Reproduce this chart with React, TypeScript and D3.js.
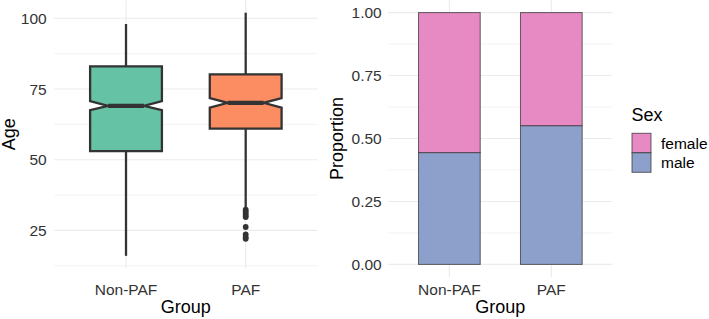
import React from "react";
import * as d3 from "d3";

const groups = ["Non-PAF", "PAF"];
const boxFill = ["#66C2A5", "#FC8D62"];
const q1 = [53, 61];
const q3 = [83, 80.2];
const medians = [69, 70.1];
const notchLow = [67.5, 68.4];
const notchHigh = [70.7, 71.8];
const whiskerLow = [16, 33];
const whiskerHigh = [98, 102];
const pafOutliers = [32.3, 31.6, 30.9, 30.2, 29.7, 26.2, 23.6, 22.6, 22.0];

const ageTicks = [25, 50, 75, 100];
const ageMinor = [12.5, 37.5, 62.5, 87.5];
const propTicks = [0, 0.25, 0.5, 0.75, 1.0];
const propMinor = [0.125, 0.375, 0.625, 0.875];

const sexes = ["male", "female"];
const maleProp = [0.444, 0.551];
const sexFill: Record<string, string> = { female: "#E78AC3", male: "#8DA0CB" };
const legendOrder = ["female", "male"];

const FONT = "'Liberation Sans', Arial, Helvetica, sans-serif";

export default function App() {
  const W = 709, H = 319;
  // left panel
  const L = { x0: 54.2, x1: 317.5, y0: 0.5, y1: 268 };
  const xL = d3.scalePoint<string>().domain(groups).range([L.x0, L.x1]).padding(0.6);
  const yL = d3.scaleLinear().domain([11.7, 106.3]).range([L.y1, L.y0]);
  const boxW = xL.step() * 0.6;

  // right panel
  const R = { x0: 388.2, x1: 612.5, y0: 0, y1: 277 };
  const xR = d3.scalePoint<string>().domain(groups).range([R.x0, R.x1]).padding(0.6);
  const yR = d3.scaleLinear().domain([-0.05, 1.05]).range([R.y1, R.y0]);
  const barW = xR.step() * 0.605;

  const stackData = groups.map((g, i) => ({ group: g, male: maleProp[i], female: 1 - maleProp[i] }));
  const stacked = d3.stack<any>().keys(sexes)(stackData);

  const grid = "#EBEBEB";
  const tickCol = "#333333";
  const dark = "#333333";

  return (
    <svg width={W} height={H} style={{ position: "absolute", left: 0, top: 0 }} fontFamily={FONT}>
      <rect x={0} y={0} width={W} height={H} fill="#fff" />
      {/* LEFT PANEL GRID */}
      {ageMinor.map((v) => (
        <line key={"lm" + v} x1={L.x0} x2={L.x1} y1={yL(v)} y2={yL(v)} stroke={grid} strokeWidth={0.6} />
      ))}
      {ageTicks.map((v) => (
        <line key={"lM" + v} x1={L.x0} x2={L.x1} y1={yL(v)} y2={yL(v)} stroke={grid} strokeWidth={1.1} />
      ))}
      {groups.map((g) => (
        <line key={"lv" + g} x1={xL(g)} x2={xL(g)} y1={L.y0} y2={L.y1} stroke={grid} strokeWidth={1.1} />
      ))}
      {/* boxes */}
      {groups.map((g, i) => {
        const cx = xL(g)!;
        const hw = boxW / 2;
        const nw = hw / 2;
        const pts: [number, number][] = [
          [cx - hw, yL(q3[i])],
          [cx + hw, yL(q3[i])],
          [cx + hw, yL(notchHigh[i])],
          [cx + nw, yL(medians[i])],
          [cx + hw, yL(notchLow[i])],
          [cx + hw, yL(q1[i])],
          [cx - hw, yL(q1[i])],
          [cx - hw, yL(notchLow[i])],
          [cx - nw, yL(medians[i])],
          [cx - hw, yL(notchHigh[i])],
        ];
        const path = d3.line()(pts) + "Z";
        return (
          <g key={"box" + g}>
            <line x1={cx} x2={cx} y1={yL(whiskerHigh[i])} y2={yL(q3[i])} stroke={dark} strokeWidth={2.3} />
            <line x1={cx} x2={cx} y1={yL(q1[i])} y2={yL(whiskerLow[i])} stroke={dark} strokeWidth={2.3} />
            <path d={path} fill={boxFill[i]} stroke={dark} strokeWidth={2.3} strokeLinejoin="miter" />
            <line x1={cx - nw} x2={cx + nw} y1={yL(medians[i])} y2={yL(medians[i])} stroke={dark} strokeWidth={4.2} />
          </g>
        );
      })}
      {pafOutliers.map((v, k) => (
        <circle key={"o" + k} cx={xL("PAF")} cy={yL(v)} r={2.9} fill={dark} />
      ))}
      {/* left axes text */}
      {ageTicks.map((v) => (
        <text key={"lt" + v} x={46.7} y={yL(v)} dy="0.36em" textAnchor="end" fontSize={15.5} fill={tickCol}>
          {v}
        </text>
      ))}
      {groups.map((g) => (
        <text key={"lx" + g} x={xL(g)} y={294.5} textAnchor="middle" fontSize={15.5} fill={tickCol}>
          {g}
        </text>
      ))}
      <text x={(L.x0 + L.x1) / 2} y={313} textAnchor="middle" fontSize={18} fill="#000">
        Group
      </text>
      <text transform={`translate(14.5,${(L.y0 + L.y1) / 2}) rotate(-90)`} textAnchor="middle" fontSize={18} fill="#000">
        Age
      </text>

      {/* RIGHT PANEL GRID */}
      {propMinor.map((v) => (
        <line key={"rm" + v} x1={R.x0} x2={R.x1} y1={yR(v)} y2={yR(v)} stroke={grid} strokeWidth={0.6} />
      ))}
      {propTicks.map((v) => (
        <line key={"rM" + v} x1={R.x0} x2={R.x1} y1={yR(v)} y2={yR(v)} stroke={grid} strokeWidth={1.1} />
      ))}
      {groups.map((g) => (
        <line key={"rv" + g} x1={xR(g)} x2={xR(g)} y1={R.y0} y2={R.y1} stroke={grid} strokeWidth={1.1} />
      ))}
      {/* bars */}
      {stacked.map((layer) => (
        <g key={"layer" + layer.key}>
          {layer.map((d, i) => (
            <rect
              key={layer.key + i}
              x={xR(groups[i])! - barW / 2}
              y={yR(d[1])}
              width={barW}
              height={yR(d[0]) - yR(d[1])}
              fill={sexFill[layer.key]}
              stroke="#333"
              strokeOpacity={0.75}
              strokeWidth={1}
            />
          ))}
        </g>
      ))}
      {propTicks.map((v) => (
        <text key={"rt" + v} x={381.7} y={yR(v)} dy="0.36em" textAnchor="end" fontSize={15.5} fill={tickCol}>
          {d3.format(".2f")(v)}
        </text>
      ))}
      {groups.map((g) => (
        <text key={"rx" + g} x={xR(g)} y={294.5} textAnchor="middle" fontSize={15.5} fill={tickCol}>
          {g}
        </text>
      ))}
      <text x={(R.x0 + R.x1) / 2} y={313} textAnchor="middle" fontSize={18} fill="#000">
        Group
      </text>
      <text transform={`translate(343,${(R.y0 + R.y1) / 2}) rotate(-90)`} textAnchor="middle" fontSize={18} fill="#000">
        Proportion
      </text>

      {/* legend */}
      <text x={631.5} y={121} fontSize={18} fill="#000">
        Sex
      </text>
      {legendOrder.map((s, k) => (
        <g key={"leg" + s}>
          <rect x={632} y={133.3 + k * 19.5} width={19} height={19.5} fill={sexFill[s]} stroke="#333" strokeOpacity={0.75} strokeWidth={1} />
          <text x={661} y={133.3 + k * 19.5 + 9.75} dy="0.36em" fontSize={15.5} fill="#000">
            {s}
          </text>
        </g>
      ))}
    </svg>
  );
}
